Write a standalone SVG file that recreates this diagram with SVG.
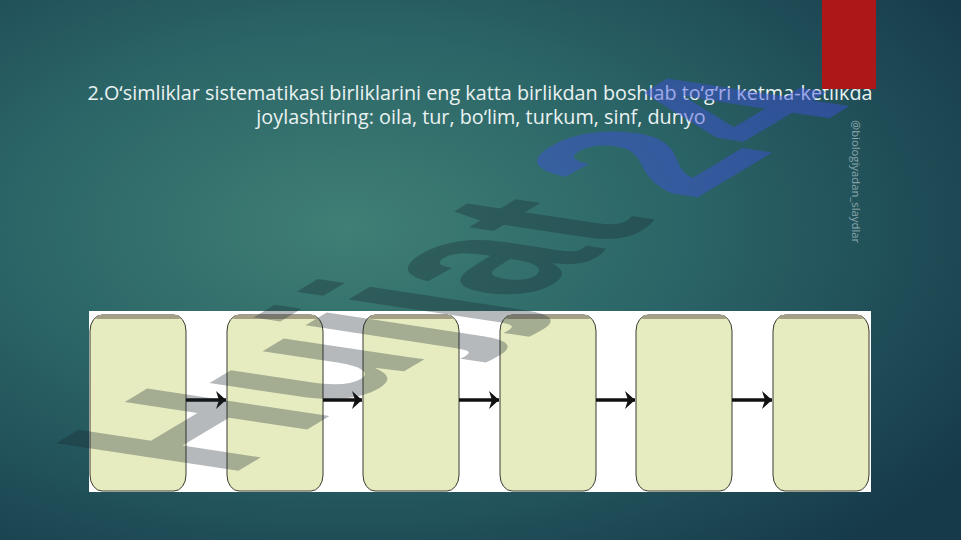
<svg xmlns="http://www.w3.org/2000/svg" width="961" height="540" viewBox="0 0 961 540">
  <defs>
    <radialGradient id="bg" cx="0.36" cy="0.42" r="0.78">
      <stop offset="0" stop-color="#3f7f75"/>
      <stop offset="0.45" stop-color="#2b6567"/>
      <stop offset="1" stop-color="#163a4a"/>
    </radialGradient>
    <marker id="ah" markerUnits="userSpaceOnUse" markerWidth="12" markerHeight="18" refX="10" refY="9" orient="auto">
      <path d="M0,0 L10,9 L0,18 L3,9 Z" fill="#111"/>
    </marker>
    <style>
      .title { font-family: "Open Sans", "Noto Sans", sans-serif; font-size: 19.8px; fill: #eaf2f2; text-anchor: middle; }
      .side { font-family: "Open Sans", "Noto Sans", sans-serif; font-size: 11.3px; fill: #8fa9ae; }
      .box { fill: #e6ecc0; stroke: #3a3a30; stroke-width: 1; }
      .band { fill: #a59f86; }
      .conn { stroke: #111; stroke-width: 3.5; fill: none; marker-end: url(#ah); }
      .wm { font-family: "Liberation Sans", Arial, sans-serif; font-weight: bold; font-size: 100px; }
    </style>
  </defs>

  <rect x="0" y="0" width="961" height="540" fill="url(#bg)"/>

  <g id="title">
    <text class="title" x="480" y="100">2.O‘simliklar sistematikasi birliklarini eng katta birlikdan boshlab to‘g‘ri ketma-ketlikda</text>
    <text class="title" x="481" y="124">joylashtiring: oila, tur, bo‘lim, turkum, sinf, dunyo</text>
  </g>

  <g id="panel">
    <rect x="89" y="311" width="782" height="181" fill="#ffffff"/>
  </g>

  <g id="box1">
    <rect class="box" x="90" y="315" width="96" height="176" rx="12" ry="16"/>
    <path class="band" d="M99,315 L177,315 L180,319 L96,319 Z"/>
  </g>
  <g id="box2">
    <rect class="box" x="227" y="315" width="96" height="176" rx="12" ry="16"/>
    <path class="band" d="M236,315 L314,315 L317,319 L233,319 Z"/>
  </g>
  <g id="box3">
    <rect class="box" x="363" y="315" width="96" height="176" rx="12" ry="16"/>
    <path class="band" d="M372,315 L450,315 L453,319 L369,319 Z"/>
  </g>
  <g id="box4">
    <rect class="box" x="500" y="315" width="96" height="176" rx="12" ry="16"/>
    <path class="band" d="M509,315 L587,315 L590,319 L506,319 Z"/>
  </g>
  <g id="box5">
    <rect class="box" x="636" y="315" width="96" height="176" rx="12" ry="16"/>
    <path class="band" d="M645,315 L723,315 L726,319 L642,319 Z"/>
  </g>
  <g id="box6">
    <rect class="box" x="773" y="315" width="96" height="176" rx="12" ry="16"/>
    <path class="band" d="M782,315 L860,315 L863,319 L779,319 Z"/>
  </g>

  <g id="connectors">
    <line class="conn" x1="186" y1="400" x2="226" y2="400"/>
    <line class="conn" x1="323" y1="400" x2="362" y2="400"/>
    <line class="conn" x1="459" y1="400" x2="499" y2="400"/>
    <line class="conn" x1="596" y1="400" x2="635" y2="400"/>
    <line class="conn" x1="732" y1="400" x2="772" y2="400"/>
  </g>

  <g id="watermark" transform="matrix(1.55 -0.93 2.65 0.40 228 477)">
    <text class="wm" x="0" y="0"><tspan fill="#1a2430" fill-opacity="0.32">Hujjat</tspan><tspan dx="20" dy="1" fill="#4050e0" fill-opacity="0.45">24</tspan></text>
  </g>

  <g id="accent">
    <rect x="822" y="0" width="54" height="89" fill="#ae1717"/>
  </g>

  <g id="handle">
    <text class="side" transform="translate(852,120) rotate(90)">@biologiyadan_slaydlar</text>
  </g>
</svg>
